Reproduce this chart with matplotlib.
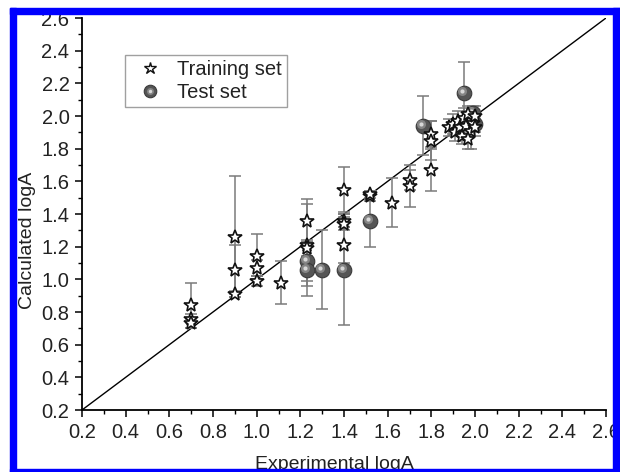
import numpy as np
import matplotlib
matplotlib.use("Agg")
import matplotlib.pyplot as plt
from matplotlib.lines import Line2D
from matplotlib.patches import Rectangle
from matplotlib.legend_handler import HandlerTuple
from matplotlib.transforms import offset_copy

plt.rcParams['font.family'] = ['Liberation Sans', 'DejaVu Sans']

# Training set (stars): experimental, calculated, error
train_x = [0.70, 0.70, 0.70, 0.90, 0.90, 0.90, 1.00, 1.00, 1.00, 1.11,
           1.23, 1.23, 1.23, 1.40, 1.40, 1.40, 1.40, 1.52, 1.52, 1.62,
           1.70, 1.70, 1.80, 1.80, 1.80,
           1.88, 1.90, 1.91, 1.92, 1.93, 1.94, 1.95, 1.96, 1.97, 1.98,
           1.99, 2.00, 2.00, 1.97]
train_y = [0.84, 0.76, 0.73, 1.26, 1.06, 0.91, 1.14, 1.07, 0.99, 0.98,
           1.36, 1.21, 1.19, 1.55, 1.36, 1.34, 1.21, 1.51, 1.52, 1.47,
           1.61, 1.57, 1.89, 1.85, 1.67,
           1.93, 1.95, 1.90, 1.97, 1.93, 1.88, 1.99, 1.94, 2.01, 1.91,
           1.96, 2.00, 1.93, 1.86]
train_err = [0.14, 0.03, 0.03, 0.37, 0.15, 0.02, 0.14, 0.05, 0.03, 0.13,
             0.13, 0.25, 0.05, 0.14, 0.04, 0.04, 0.11, 0.03, 0.02, 0.15,
             0.06, 0.13, 0.08, 0.12, 0.13,
             0.05, 0.06, 0.05, 0.06, 0.05, 0.05, 0.06, 0.05, 0.05, 0.11,
             0.05, 0.06, 0.05, 0.06]

# Test set (spheres)
test_x = [1.23, 1.23, 1.30, 1.40, 1.52, 1.76, 1.95, 1.97, 1.99, 2.00]
test_y = [1.11, 1.06, 1.06, 1.06, 1.36, 1.94, 2.14, 1.98, 2.02, 1.95]
test_err = [0.12, 0.16, 0.24, 0.34, 0.16, 0.18, 0.19, 0.05, 0.04, 0.05]

diag = [0.2, 2.6]
ticks = np.round(np.arange(0.2, 2.61, 0.2), 1)

W, H = 620, 472
fig = plt.figure(figsize=(W / 100, H / 100), dpi=100)
ax = fig.add_axes([82 / W, 1 - 410 / H, (606 - 82) / W, (410 - 18) / H])

ax.plot(diag, diag, color='black', lw=1.0, zorder=2)

err_kw = dict(fmt='none', ecolor='#7a7a7a', elinewidth=1.1, capsize=4, capthick=1.1, zorder=3)
ax.errorbar(test_x, test_y, yerr=test_err, **err_kw)
ax.errorbar(train_x, train_y, yerr=train_err, **err_kw)

# spheres: dark ball + lighter core + small highlight to the upper left
hl = offset_copy(ax.transData, fig=fig, x=-1.4, y=1.4, units='points')
ax.plot(test_x, test_y, 'o', ms=10.5, mfc='#555555', mec='#3a3a3a', mew=0.8, zorder=4)
ax.plot(test_x, test_y, 'o', ms=6.5, mfc='#858585', mec='none', zorder=4, transform=hl)
ax.plot(test_x, test_y, 'o', ms=3, mfc='#d8d8d8', mec='none', zorder=4, transform=hl)

ax.plot(train_x, train_y, '*', ms=10, mfc='white', mec='#111111', mew=1.2, zorder=5)

ax.set_xlim(0.2, 2.6)
ax.set_ylim(0.2, 2.6)
ax.set_xticks(ticks)
ax.set_yticks(ticks)
ax.set_xticklabels([f"{t:.1f}" for t in ticks])
ax.set_yticklabels([f"{t:.1f}" for t in ticks])
ax.xaxis.set_minor_locator(plt.MultipleLocator(0.1))
ax.yaxis.set_minor_locator(plt.MultipleLocator(0.1))
ax.tick_params(which='major', direction='out', length=5, width=1.1, labelsize=14.5,
               pad=4, labelcolor='#222222')
ax.tick_params(which='minor', direction='out', length=3, width=1.0)
for s in ['top', 'right']:
    ax.spines[s].set_visible(False)
for s in ['left', 'bottom']:
    ax.spines[s].set_linewidth(1.3)

# legend
h_star = Line2D([], [], ls='none', marker='*', ms=9, mfc='white', mec='#111111', mew=1.0)
h_s1 = Line2D([], [], ls='none', marker='o', ms=9, mfc='#555555', mec='#3a3a3a', mew=0.8)
h_s2 = Line2D([], [], ls='none', marker='o', ms=5, mfc='#858585', mec='none')
h_s3 = Line2D([], [], ls='none', marker='o', ms=2.5, mfc='#d8d8d8', mec='none')
leg = ax.legend([h_star, (h_s1, h_s2, h_s3)], ['Training set', 'Test set'],
                handler_map={tuple: HandlerTuple(ndivide=1, pad=0)},
                loc='upper left', bbox_to_anchor=((125 - 82) / 524, (410 - 55) / 392),
                borderaxespad=0, fontsize=14.5, fancybox=False, frameon=True,
                handlelength=2.0, handletextpad=0.35, borderpad=0.25,
                labelspacing=0.2)
leg.get_frame().set_edgecolor('#888888')
leg.get_frame().set_linewidth(1.0)
for t in leg.get_texts():
    t.set_color('#222222')

fig.text(27 / W, 1 - 240 / H, 'Calculated logA', rotation=90, fontsize=14,
         ha='center', va='center', color='#222222')
fig.text(334 / W, 1 - 456 / H, 'Experimental logA', fontsize=14,
         ha='center', va='top', color='#222222')

# blue frame around the picture
blue = '#0000ff'
for x0, y0, w, h in [(10, 8, 6, 464), (10, 8, 610, 6), (613, 8, 7, 464), (10, 469, 610, 3)]:
    fig.patches.append(Rectangle((x0 / W, 1 - (y0 + h) / H), w / W, h / H,
                                 transform=fig.transFigure, color=blue, zorder=10))

fig.savefig('out.png', dpi=100, facecolor='white')
